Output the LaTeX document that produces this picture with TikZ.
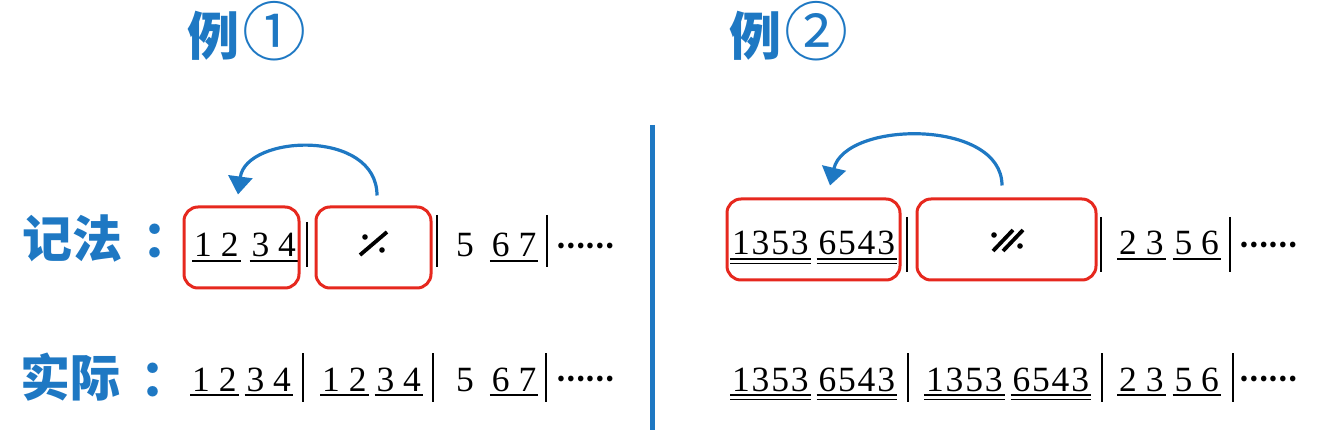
\documentclass[tikz,border=0pt]{standalone}
\usepackage{fontspec}
\setmainfont{Liberation Serif}
\newfontfamily\cjkb{Noto Sans CJK SC Black}
\newfontfamily\cjk{Noto Sans CJK SC}
\usetikzlibrary{arrows.meta}
\definecolor{myblue}{RGB}{30,120,195}
\definecolor{myred}{RGB}{230,40,30}
\newcommand\ulx[1]{\setbox0=\hbox{#1}\rlap{\kern-2pt\vrule width \dimexpr\wd0+4pt\relax height -3pt depth 4.6pt}\copy0}
\newcommand\uux[1]{\setbox0=\hbox{#1}\rlap{\kern-2pt\vrule width \dimexpr\wd0+4pt\relax height -3pt depth 4.6pt}\rlap{\kern-2pt\vrule width \dimexpr\wd0+4pt\relax height -7.6pt depth 9.2pt}\copy0}
\newcommand\fd[4]{#1\kern1.8pt#2\kern1.8pt#3\kern1.8pt#4}
\tikzset{
  mus/.style={anchor=base west, inner sep=0pt, font=\rmfamily\fontsize{35.5}{36}\selectfont},
  lab/.style={anchor=base west, inner sep=0pt, text=myblue, font=\cjkb\fontsize{50}{50}\selectfont},
  ttl/.style={anchor=base west, inner sep=0pt, text=myblue, font=\cjkb\fontsize{52}{52}\selectfont},
  dotsn/.style={anchor=west, inner sep=0pt, font=\cjkb\fontsize{26}{26}\selectfont},
  redbox/.style={draw=myred, line width=3pt, rounded corners=14pt, inner sep=0pt, minimum height=81pt},
  barl/.style={line width=1.8pt},
  arr/.style={draw=myblue, line width=3.2pt, -{Triangle[width=24pt,length=18pt]}},
  divl/.style={draw=myblue, line width=5pt},
  simile/.style={line width=3.8pt},
}
\begin{document}
\begin{tikzpicture}[x=1pt,y=-1pt]
\useasboundingbox (0,0) rectangle (1320,430);
% titles
\node[ttl] (t1) at (187,56) {例\kern3pt{\cjk\fontsize{64}{64}\selectfont ①}};
\node[ttl] (t2) at (729,56) {例\kern3pt{\cjk\fontsize{64}{64}\selectfont ②}};
% labels
\node[lab] (n1) at (22,258) {记法\kern20pt：};
\node[lab] (n2) at (20,396) {实际\kern20pt：};
% divider
\draw[divl] (652,125) -- (652,430);
% example 1, notation row
\node[mus] (l1a) at (194,257) {\ulx{1 2}\hskip13pt\ulx{3 4}};
\node[mus] (l1c) at (456,257) {5\hskip18pt\ulx{6 7}};
\node[dotsn] (l1d) at (556,246) {……};
\draw[barl] (307,222) -- (307,267);
\draw[barl] (437,215) -- (437,267);
\draw[barl] (547,215) -- (547,267);
\draw[simile] (360,255) -- (387,232);
\fill (365,237) circle (2.8pt);
\fill (382,250) circle (2.8pt);
% example 1, actual row
\node[mus] (l2a) at (192,391) {\ulx{1 2}\hskip10pt\ulx{3 4}};
\node[mus] (l2b) at (322,391) {\ulx{1 2}\hskip10pt\ulx{3 4}};
\node[mus] (l2c) at (456,391) {5\hskip18pt\ulx{6 7}};
\node[dotsn] (l2d) at (556,379) {……};
\draw[barl] (303,353) -- (303,402);
\draw[barl] (433,353) -- (433,402);
\draw[barl] (546,353) -- (546,402);
% example 2, notation row
\node[mus] (r1a) at (732,255) {\uux{\fd1353}\hskip10pt\uux{\fd6543}};
\node[mus] (r1c) at (1119,255) {\ulx{2 3}\hskip11pt\ulx{5 6}};
\node[dotsn] (r1d) at (1239,245) {……};
\draw[barl] (907,217) -- (907,272);
\draw[barl] (1101,217) -- (1101,272);
\draw[barl] (1230,217) -- (1230,272);
\draw[simile] (993,251) -- (1013,230);
\draw[simile] (1003,251) -- (1023,230);
\fill (994,235) circle (2.8pt);
\fill (1020,246) circle (2.8pt);
% example 2, actual row
\node[mus] (r2a) at (732,391) {\uux{\fd1353}\hskip10pt\uux{\fd6543}};
\node[mus] (r2b) at (926,391) {\uux{\fd1353}\hskip10pt\uux{\fd6543}};
\node[mus] (r2c) at (1119,391) {\ulx{2 3}\hskip11pt\ulx{5 6}};
\node[dotsn] (r2d) at (1239,379) {……};
\draw[barl] (908,353) -- (908,402);
\draw[barl] (1102,353) -- (1102,402);
\draw[barl] (1233,353) -- (1233,402);
% red boxes
\node[redbox, minimum width=115pt] (b1) at (241.5,247.5) {};
\node[redbox, minimum width=115pt] (b2) at (373.5,247.5) {};
\node[redbox, minimum width=173pt] (rb1) at (813.5,239.5) {};
\node[redbox, minimum width=179pt] (rb2) at (1006.5,239.5) {};
% arrows
\draw[arr] ([xshift=3.5pt,yshift=10pt]b2.north) .. controls +(0,-67) and +(8,-60) .. ([xshift=-3.5pt,yshift=11pt]b1.north);
\draw[arr] ([xshift=-4.5pt,yshift=12pt]rb2.north) .. controls +(0,-67) and +(15,-65) .. ([xshift=16.5pt,yshift=12pt]rb1.north);
\end{tikzpicture}
\end{document}
